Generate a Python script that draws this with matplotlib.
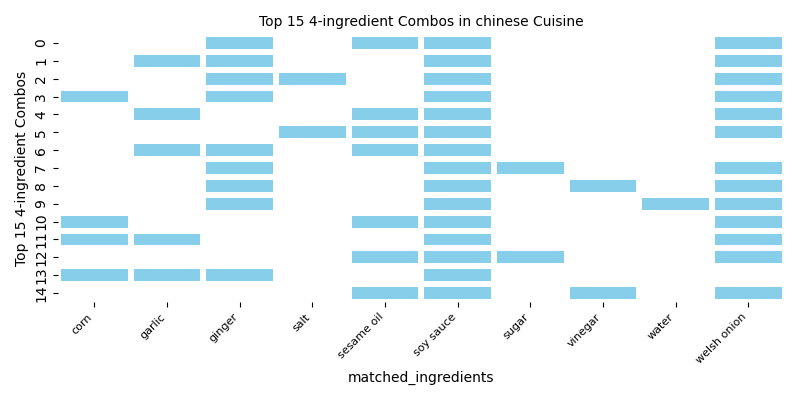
import matplotlib
matplotlib.use("Agg")
import matplotlib.pyplot as plt
import numpy as np
import pandas as pd
import seaborn as sns
from matplotlib.colors import ListedColormap

ingredients = ["corn", "garlic", "ginger", "salt", "sesame oil", "soy sauce",
               "sugar", "vinegar", "water", "welsh onion"]

combos = [
    ["ginger", "sesame oil", "soy sauce", "welsh onion"],
    ["garlic", "ginger", "soy sauce", "welsh onion"],
    ["ginger", "salt", "soy sauce", "welsh onion"],
    ["corn", "ginger", "soy sauce", "welsh onion"],
    ["garlic", "sesame oil", "soy sauce", "welsh onion"],
    ["salt", "sesame oil", "soy sauce", "welsh onion"],
    ["garlic", "ginger", "sesame oil", "soy sauce"],
    ["ginger", "soy sauce", "sugar", "welsh onion"],
    ["ginger", "soy sauce", "vinegar", "welsh onion"],
    ["ginger", "soy sauce", "water", "welsh onion"],
    ["corn", "sesame oil", "soy sauce", "welsh onion"],
    ["corn", "garlic", "soy sauce", "welsh onion"],
    ["sesame oil", "soy sauce", "sugar", "welsh onion"],
    ["corn", "garlic", "ginger", "soy sauce"],
    ["sesame oil", "soy sauce", "vinegar", "welsh onion"],
]

matrix = pd.DataFrame(
    [[1 if ing in c else 0 for ing in ingredients] for c in combos],
    columns=ingredients,
)

fig = plt.figure(figsize=(8, 4), dpi=100)
ax = fig.add_axes([0.0725, 0.245, 0.9085, 0.67])
sns.heatmap(matrix, cmap=ListedColormap(["white", "skyblue"]), cbar=False,
            linewidths=4, linecolor="white", ax=ax, vmin=0, vmax=1)
ax.set_title("Top 15 4-ingredient Combos in chinese Cuisine", fontsize=10)
ax.set_xlabel("matched_ingredients", fontsize=10)
ax.set_ylabel("Top 15 4-ingredient Combos", fontsize=10)
ax.set_xticklabels(ingredients, rotation=45, ha="right", fontsize=8)
ax.set_yticklabels([str(i) for i in range(len(combos))], rotation=90, fontsize=10, va="center")
ax.tick_params(axis="both", length=3.5)
fig.savefig("out.png", dpi=100)
